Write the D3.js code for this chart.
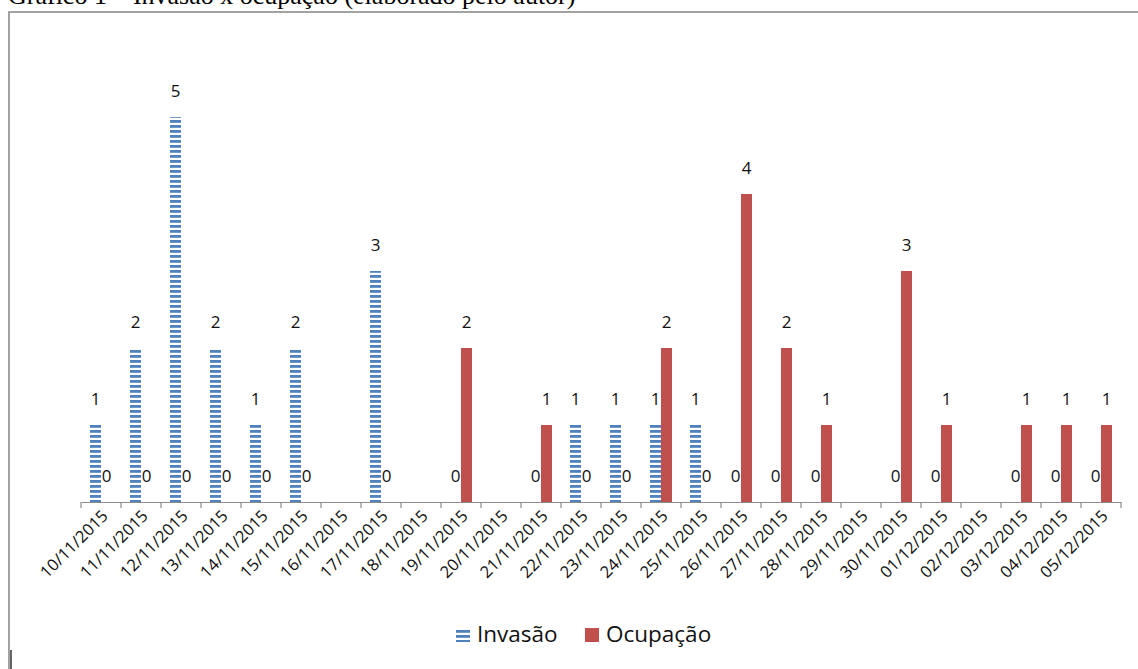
<!DOCTYPE html>
<html>
<head>
<meta charset="utf-8">
<script src="https://cdn.jsdelivr.net/npm/d3@7"></script>
<style>
  html, body { margin: 0; padding: 0; background: #ffffff; }
</style>
</head>
<body>
<div id="chart"></div>
<script>
// ---------- data ----------
const dates = ["10/11/2015", "11/11/2015", "12/11/2015", "13/11/2015", "14/11/2015", "15/11/2015",
    "16/11/2015", "17/11/2015", "18/11/2015", "19/11/2015", "20/11/2015", "21/11/2015", "22/11/2015",
    "23/11/2015", "24/11/2015", "25/11/2015", "26/11/2015", "27/11/2015", "28/11/2015", "29/11/2015",
    "30/11/2015", "01/12/2015", "02/12/2015", "03/12/2015", "04/12/2015", "05/12/2015"];
const seriesNames = ["Invasão", "Ocupação"];
const invasao = [1, 2, 5, 2, 1, 2, null, 3, null, 0, null, 0, 1, 1, 1, 1, 0, 0, 0, null, 0, 0, null, 0, 0, 0];
const ocupacao = [0, 0, 0, 0, 0, 0, null, 0, null, 2, null, 1, 0, 0, 2, 0, 4, 2, 1, null, 3, 1, null, 1, 1, 1];
const yDomain = [0, 6];
const titleText = "Gráfico 1 – Invasão x ocupação (elaborado pelo autor)";

function makeChart(containerSelector) {
    const width = 1138, height = 669;
    const font = "'Open Sans', 'Noto Sans', sans-serif";
    const blue = "#4f81bd", red = "#c0504d";

    d3.select(containerSelector).html("");
    const svg = d3.select(containerSelector).append("svg")
        .attr("width", width)
        .attr("height", height)
        .style("display", "block");

    // 横条纹图案
    const defs = svg.append("defs");
    const pat = defs.append("pattern")
        .attr("id", "stripes")
        .attr("patternUnits", "userSpaceOnUse")
        .attr("width", 10)
        .attr("height", 5)
        .attr("y", 0);
    pat.append("rect").attr("width", 10).attr("height", 5).attr("fill", "#ffffff");
    pat.append("rect").attr("width", 10).attr("height", 2.8).attr("y", 0).attr("fill", blue);

    // title (cut off at top, as in the source page)
    svg.append("text")
        .attr("x", 8)
        .attr("y", 4)
        .attr("font-family", "'Liberation Serif', 'Times New Roman', serif")
        .attr("font-size", "26px")
        .attr("fill", "#000")
        .text(titleText);

    // chart frame
    svg.append("rect")
        .attr("x", 9)
        .attr("y", 12)
        .attr("width", width + 20)
        .attr("height", height + 20)
        .attr("fill", "none")
        .attr("stroke", "#8c8c8c")
        .attr("stroke-width", 1.6);
    svg.append("line")
        .attr("x1", 11).attr("x2", 11)
        .attr("y1", 650).attr("y2", height)
        .attr("stroke", "#333")
        .attr("stroke-width", 1.5);

    // scales
    const x0 = d3.scaleBand().domain(dates).range([81, 1121]).padding(0);
    const barW = 11;
    const x1 = d3.scaleBand().domain(seriesNames)
        .range([x0.bandwidth() / 2 - barW, x0.bandwidth() / 2 + barW]);
    const y = d3.scaleLinear().domain(yDomain).range([502, 40]);

    const rows = [];
    dates.forEach((d, i) => {
        [invasao[i], ocupacao[i]].forEach((v, s) => {
            if (v !== null) rows.push({ date: d, series: seriesNames[s], value: v });
        });
    });

    const g = svg.append("g");
    g.selectAll("rect.bar")
        .data(rows.filter(r => r.value > 0))
        .join("rect")
        .attr("class", "bar")
        .attr("x", r => x0(r.date) + x1(r.series))
        .attr("width", x1.bandwidth())
        .attr("y", r => y(r.value))
        .attr("height", r => y(0) - y(r.value))
        .attr("fill", r => r.series === "Invasão" ? "url(#stripes)" : red);

    // value labels
    g.selectAll("text.val")
        .data(rows)
        .join("text")
        .attr("class", "val")
        .attr("x", r => x0(r.date) + x1(r.series) + x1.bandwidth() / 2)
        .attr("y", r => y(r.value) - 20)
        .attr("text-anchor", "middle")
        .attr("font-family", font)
        .attr("font-size", "17px")
        .attr("fill", "#111")
        .text(r => r.value);

    // x axis
    const axis = svg.append("g")
        .attr("transform", "translate(0,502)")
        .call(d3.axisBottom(x0).tickSize(0).tickPadding(0));
    axis.select(".domain").attr("stroke", "#8c8c8c").attr("stroke-width", 1.2);
    axis.selectAll(".tick text")
        .attr("font-family", font)
        .attr("font-size", "16.5px")
        .attr("fill", "#111")
        .attr("text-anchor", "end")
        .attr("dy", 0)
        .attr("transform", "translate(8,15) rotate(-45)");
    // category boundary ticks
    const bounds = dates.map(d => x0(d)).concat([x0.range()[1]]);
    axis.selectAll("line.bound")
        .data(bounds)
        .join("line")
        .attr("class", "bound")
        .attr("x1", d => d).attr("x2", d => d)
        .attr("y1", 0).attr("y2", 6)
        .attr("stroke", "#8c8c8c")
        .attr("stroke-width", 1.2);

    // legend
    const legend = svg.append("g");
    const legendItems = [
        { name: "Invasão", fill: "url(#stripes)", x: 456 },
        { name: "Ocupação", fill: red, x: 585 }
    ];
    legendItems.forEach(it => {
        legend.append("rect")
            .attr("x", it.x).attr("y", 628)
            .attr("width", 14).attr("height", 14)
            .attr("fill", it.fill);
        legend.append("text")
            .attr("x", it.x + 21)
            .attr("y", 642)
            .attr("font-family", font)
            .attr("font-size", "22.5px")
            .attr("fill", "#111")
            .text(it.name);
    });

    return svg.node();
}

makeChart("#chart");
</script>
</body>
</html>
